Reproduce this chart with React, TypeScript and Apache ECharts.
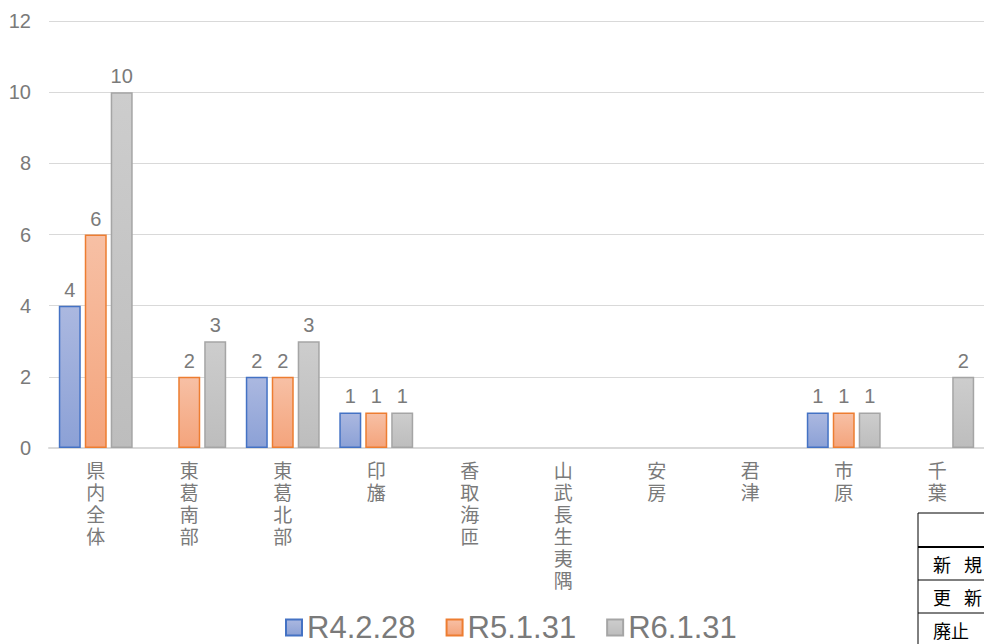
import React, { useEffect, useRef } from "react";
import * as echarts from "echarts";

const categories = ["県内全体", "東葛南部", "東葛北部", "印旛", "香取海匝", "山武長生夷隅", "安房", "君津", "市原", "千葉"];
const seriesNames = ["R4.2.28", "R5.1.31", "R6.1.31"];
const valuesR4 = [4, 0, 2, 1, 0, 0, 0, 0, 1, 0];
const valuesR5 = [6, 2, 2, 1, 0, 0, 0, 0, 1, 0];
const valuesR6 = [10, 3, 3, 1, 0, 0, 0, 0, 1, 2];
const tableRows = ["新\u2002 規", "更\u2002 新", "廃止"];

const FONT = 'Arial, "Liberation Sans", "Noto Sans CJK JP", sans-serif';
const GRAY = "#7a7a7a";

function grad(top: string, bottom: string) {
  return new echarts.graphic.LinearGradient(0, 0, 0, 1, [
    { offset: 0, color: top },
    { offset: 1, color: bottom },
  ]);
}

export default function App() {
  const ref = useRef<HTMLDivElement>(null);
  useEffect(() => {
    if (!ref.current) return;
    const chart = echarts.init(ref.current, null, { renderer: "svg" });
    const styles = [
      { fill: grad("#abb8e0", "#8ca1d6"), border: "#4472c4" },
      { fill: grad("#f7c0a5", "#f4a47c"), border: "#ed7d31" },
      { fill: grad("#cdcdcd", "#bdbdbd"), border: "#a5a5a5" },
    ];
    const allValues = [valuesR4, valuesR5, valuesR6];
    const rowLines = [513, 547, 580, 613];
    chart.setOption({
      animation: false,
      textStyle: { fontFamily: FONT },
      grid: { left: 49, right: -5, top: 21, bottom: 196, containLabel: false },
      legend: {
        left: 285,
        top: 612,
        padding: 0,
        itemWidth: 16,
        itemHeight: 16,
        itemGap: 30,
        icon: "rect",
        textStyle: { fontSize: 31, color: GRAY, fontFamily: FONT },
        data: seriesNames,
      },
      xAxis: {
        type: "category",
        data: categories,
        axisLine: { lineStyle: { color: "#d9d9d9", width: 2 } },
        axisTick: { show: false },
        axisLabel: {
          interval: 0,
          margin: 10,
          fontSize: 19,
          lineHeight: 22,
          color: GRAY,
          fontFamily: '"Noto Sans CJK JP", sans-serif',
          verticalAlign: "top",
          formatter: (v: string) => v.split("").join("\n"),
        },
      },
      yAxis: {
        type: "value",
        min: 0,
        max: 12,
        interval: 2,
        axisLine: { show: false },
        axisTick: { show: false },
        splitLine: { lineStyle: { color: "#d9d9d9", width: 1 } },
        axisLabel: { fontSize: 20, color: GRAY, margin: 18, fontFamily: FONT },
      },
      series: seriesNames.map((name, i) => ({
        name,
        type: "bar",
        barWidth: 22,
        barGap: "18%",
        data: allValues[i].map((v) => (v === 0 ? null : v)),
        itemStyle: { color: styles[i].fill, borderColor: styles[i].border, borderWidth: 1.5 },
        label: {
          show: true,
          position: "top",
          distance: 6,
          fontSize: 20,
          color: GRAY,
          fontFamily: FONT,
        },
      })),
      graphic: [
        {
          type: "line",
          shape: { x1: 918, y1: 513, x2: 918, y2: 644 },
          style: { stroke: "#000", lineWidth: 1 },
        },
        ...rowLines.map((y, i) => ({
          type: "line",
          shape: { x1: 918, y1: y, x2: 984, y2: y },
          style: { stroke: "#000", lineWidth: i === 1 ? 2 : 1 },
        })),
        ...tableRows.map((t, i) => ({
          type: "text",
          x: 933,
          y: 564 + i * 33,
          style: {
            text: t,
            fontSize: 18,
            fill: "#000",
            fontFamily: '"Noto Sans CJK JP", sans-serif',
            verticalAlign: "middle",
            align: "left",
          },
        })),
      ],
    });
    return () => chart.dispose();
  }, []);
  return <div ref={ref} style={{ width: 984, height: 644, position: "absolute", left: 0, top: 0 }} />;
}
